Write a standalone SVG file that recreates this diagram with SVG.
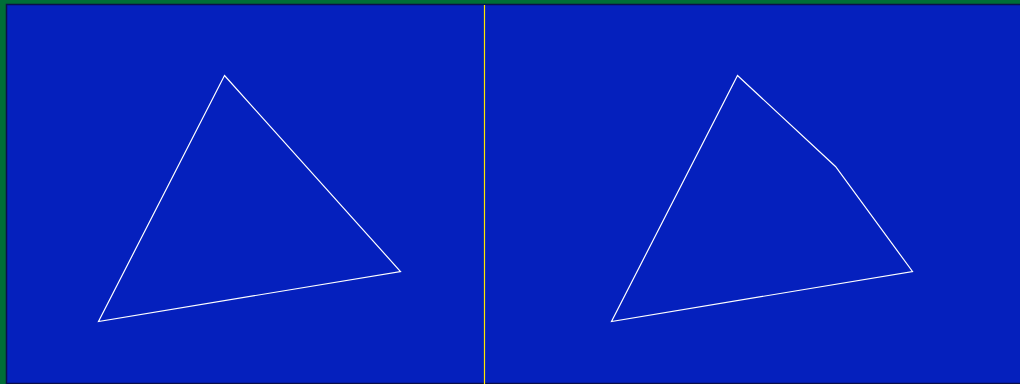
<svg xmlns="http://www.w3.org/2000/svg" width="1020" height="384" viewBox="0 0 1020 384">
<style>
.shape{fill:none;stroke:#ffffff;stroke-width:1.2;stroke-linejoin:miter}
</style>
<rect x="0" y="0" width="1020" height="384" fill="#006e37"/>
<rect id="panel" x="6.5" y="4.5" width="1020" height="379" fill="#0520bd" stroke="#0a0f4a" stroke-width="1.5"/>
<g id="divider"><line x1="484.5" y1="5" x2="484.5" y2="384" stroke="#ffe600" stroke-width="1.2"/></g>
<g id="left-triangle"><polygon class="shape" points="224.5,75.5 400.5,271.5 98.5,321.5"/></g>
<g id="right-polygon"><polygon class="shape" points="737.5,75.5 835.5,166.5 912.5,271.5 611.5,321.5"/></g>
</svg>
